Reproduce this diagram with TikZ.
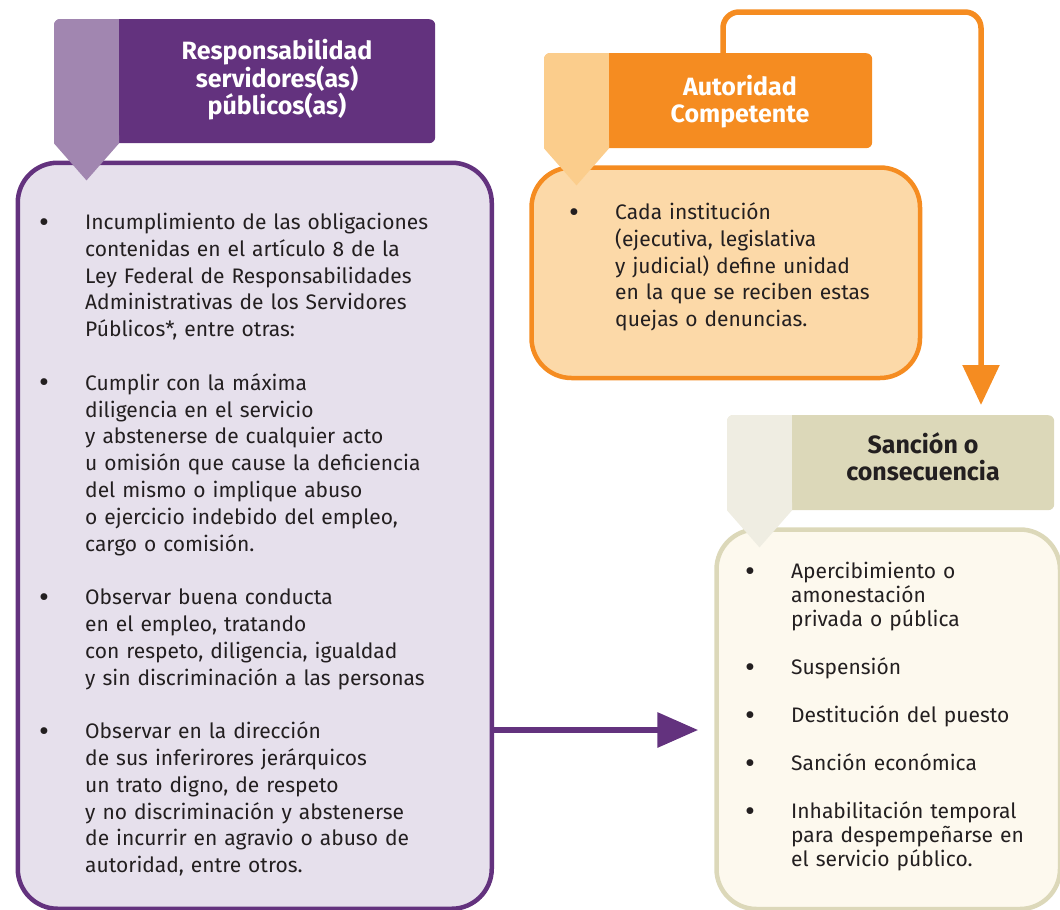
\documentclass[tikz,border=0pt]{standalone}
\usepackage{fontspec}
\usepackage{graphicx}
\setmainfont{Fira Sans}
\usetikzlibrary{arrows.meta}

\definecolor{pdark}{HTML}{63327E}
\definecolor{plight}{HTML}{A186B0}
\definecolor{pfill}{HTML}{E6E0EC}
\definecolor{odark}{HTML}{F58C21}
\definecolor{olight}{HTML}{FBCD8C}
\definecolor{ofill}{HTML}{FCD9A8}
\definecolor{sdark}{HTML}{DCD8B9}
\definecolor{slight}{HTML}{EFEDE2}
\definecolor{sfill}{HTML}{FDF9EE}
\definecolor{txt}{HTML}{231F20}

\newcommand{\bul}{\par\hangindent=46pt\hangafter=1\noindent\makebox[46pt][l]{\raisebox{-2.5pt}{\scalebox{1.45}{\textbullet}}}}
\newcommand{\gap}{\par\vspace{\baselineskip}}

\begin{document}
\begin{tikzpicture}[x=1pt,y=-1pt]
        \useasboundingbox (0,0) rectangle (1060,910);

        \begin{scope}[every node/.style={anchor=north west,line width=4.5pt,rounded corners=40pt,inner sep=0}]
          \node[draw=pdark,fill=pfill,minimum width=474pt,minimum height=746pt]   (rbox) at (15.5,160.5) {};
          \node[draw=odark,fill=ofill,minimum width=388.5pt,minimum height=210.5pt] (abox) at (529.25,165.25) {};
          \node[draw=sdark,fill=sfill,minimum width=343.5pt,minimum height=379.5pt] (sbox) at (714.25,527.25) {};
        \end{scope}

        \begin{scope}[every node/.style={anchor=north west,rounded corners=6pt,inner sep=0}]
          \node[fill=pdark,minimum width=381pt,minimum height=124pt] (rhdr) at (54,19) {};
          \node[fill=odark,minimum width=328pt,minimum height=95pt]  (ahdr) at (544,53) {};
          \node[fill=sdark,minimum width=327pt,minimum height=95pt]  (shdr) at (727,415) {};
        \end{scope}

        \foreach \h/\c in {rhdr/plight,ahdr/olight,shdr/slight} {
          \begin{scope}
            \clip[rounded corners=6pt] (\h.north west) rectangle (\h.south east);
            \fill[\c] (\h.north west) rectangle ([xshift=65pt]\h.south west);
          \end{scope}
          \fill[\c] ([yshift=8pt]\h.south west) -- (\h.south west) -- ([xshift=32.5pt,yshift=-37pt]\h.south west)
            -- ([xshift=65pt]\h.south west) -- ([xshift=65pt,yshift=8pt]\h.south west) -- cycle;
        }

        \begin{scope}[every node/.style={align=center,inner sep=0,font=\bfseries\fontsize{25}{26.8}\selectfont}]
          \node[text=white] (rtitle) at (277,80)    {Responsabilidad\\servidores(as)\\públicos(as)};
          \node[text=white] (atitle) at (740,101.5) {Autoridad\\Competente};
          \node[text=txt]   (stitle) at (923,456.5) {Sanción o\\consecuencia};
        \end{scope}

        \begin{scope}[every node/.style={anchor=north west,inner sep=0,text=txt,text width=440pt,align=left}]
          \node[font=\fontsize{21}{26.8}\selectfont] (rlist) at (39,202.5) {%
            \bul Incumplimiento de las obligaciones\newline contenidas en el artículo 8 de la\newline
            Ley Federal de Responsabilidades\newline Administrativas de los Servidores\newline Públicos*, entre otras:
            \gap\bul Cumplir con la máxima\newline diligencia en el servicio\newline y abstenerse de cualquier acto\newline
            u omisión que cause la deficiencia\newline del mismo o implique abuso\newline
            o ejercicio indebido del empleo,\newline cargo o comisión.
            \gap\bul Observar buena conducta\newline en el empleo, tratando\newline
            con respeto, diligencia, igualdad\newline y sin discriminación a las personas
            \gap\bul Observar en la dirección\newline de sus inferirores jerárquicos\newline un trato digno, de respeto\newline
            y no discriminación y abstenerse\newline de incurrir en agravio o abuso de\newline autoridad, entre otros.\par};
          \node[font=\fontsize{21}{26.8}\selectfont] (alist) at (569,192.5) {%
            \bul Cada institución\newline (ejecutiva, legislativa\newline y judicial) define unidad\newline
            en la que se reciben estas\newline quejas o denuncias.\par};
          \node[font=\fontsize{21}{24}\selectfont] (slist) at (745,554.5) {%
            \bul Apercibimiento o\newline amonestación\newline privada o pública
            \gap\bul Suspensión
            \gap\bul Destitución del puesto
            \gap\bul Sanción económica
            \gap\bul Inhabilitación temporal\newline para despempeñarse en\newline el servicio público.\par};
        \end{scope}

        \coordinate (oturn) at (723,12);
        \coordinate (oend)  at (981,12);
        \coordinate (plevel) at (0,730);

        \draw[odark,line width=5.5pt,rounded corners=16pt,-{Triangle[length=40pt,width=36pt]},shorten >=10pt]
          (ahdr.north -| oturn) -- (oturn) -- (oend) -- (shdr.north -| oend);
        \draw[pdark,line width=6.5pt,-{Triangle[length=41pt,width=34pt]},shorten >=16pt]
          (rbox.east |- plevel) -- (sbox.west |- plevel);

\end{tikzpicture}
\end{document}
